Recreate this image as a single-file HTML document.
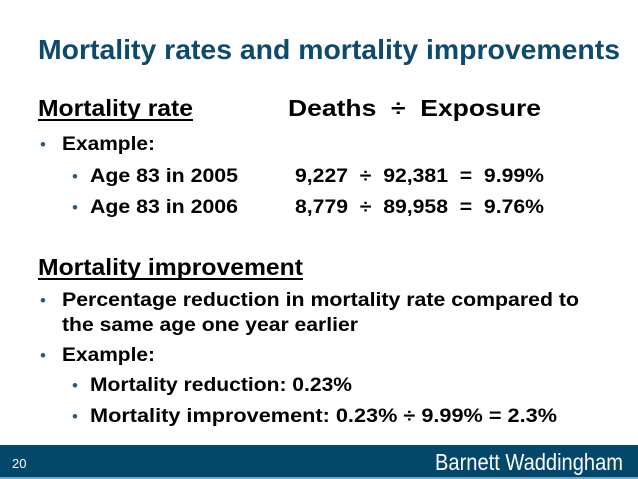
<!DOCTYPE html>
<html><head><meta charset="utf-8"><style>
html,body{margin:0;padding:0;background:#fff;}
svg{display:block;font-family:"Liberation Sans",Arial,sans-serif;}
text{white-space:pre;}
.b{font-weight:bold;fill:#000;}
.bul{fill:#2a5a84;font-size:17px;}
</style></head><body>
<svg width="638" height="479" viewBox="0 0 638 479">
<text x="38" y="59" font-size="28" font-weight="bold" fill="#0e4a6e" textLength="582" lengthAdjust="spacingAndGlyphs">Mortality rates and mortality improvements</text>

<text class="b" x="38" y="116" font-size="23" textLength="155" lengthAdjust="spacingAndGlyphs">Mortality rate</text>
<rect x="38" y="119" width="155" height="2" fill="#000"/>
<text class="b" x="288" y="116" font-size="23" textLength="253" lengthAdjust="spacingAndGlyphs">Deaths  ÷  Exposure</text>

<text class="bul" x="40" y="150">•</text>
<text class="b" x="62" y="150" font-size="19" textLength="93" lengthAdjust="spacingAndGlyphs">Example:</text>

<text class="bul" x="72" y="182">•</text>
<text class="b" x="90" y="182" font-size="19" textLength="148" lengthAdjust="spacingAndGlyphs">Age 83 in 2005</text>
<text class="b" x="295" y="182" font-size="19" textLength="249" lengthAdjust="spacingAndGlyphs">9,227  ÷  92,381  =  9.99%</text>

<text class="bul" x="72" y="213">•</text>
<text class="b" x="90" y="213" font-size="19" textLength="148" lengthAdjust="spacingAndGlyphs">Age 83 in 2006</text>
<text class="b" x="295" y="213" font-size="19" textLength="249" lengthAdjust="spacingAndGlyphs">8,779  ÷  89,958  =  9.76%</text>

<text class="b" x="38" y="275" font-size="23" textLength="265" lengthAdjust="spacingAndGlyphs">Mortality improvement</text>
<rect x="38" y="278" width="265" height="2" fill="#000"/>

<text class="bul" x="40" y="306">•</text>
<text class="b" x="62" y="306" font-size="19" textLength="517" lengthAdjust="spacingAndGlyphs">Percentage reduction in mortality rate compared to</text>
<text class="b" x="62" y="331" font-size="19" textLength="296" lengthAdjust="spacingAndGlyphs">the same age one year earlier</text>

<text class="bul" x="40" y="361">•</text>
<text class="b" x="62" y="361" font-size="19" textLength="93" lengthAdjust="spacingAndGlyphs">Example:</text>

<text class="bul" x="72" y="391">•</text>
<text class="b" x="90" y="391" font-size="19" textLength="262" lengthAdjust="spacingAndGlyphs">Mortality reduction: 0.23%</text>
<text class="bul" x="72" y="422">•</text>
<text class="b" x="90" y="422" font-size="19" textLength="467" lengthAdjust="spacingAndGlyphs">Mortality improvement: 0.23% ÷ 9.99% = 2.3%</text>

<rect x="0" y="445" width="638" height="32" fill="#03476b"/>
<rect x="0" y="477" width="638" height="2" fill="#6fa8c8"/>
<text x="12" y="468" font-size="13" fill="#fff">20</text>
<text x="435" y="470" font-size="23" fill="#fff" textLength="188" lengthAdjust="spacingAndGlyphs">Barnett Waddingham</text>
</svg>
</body></html>
